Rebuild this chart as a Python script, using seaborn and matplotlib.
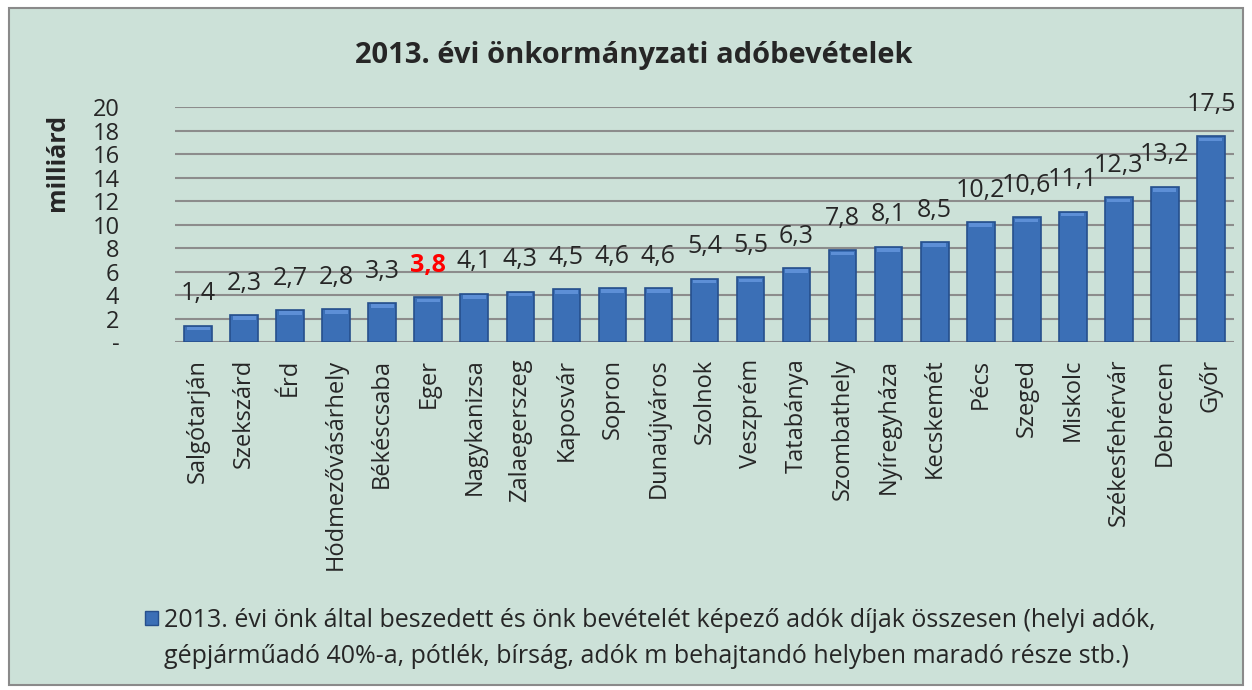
import matplotlib
matplotlib.use("Agg")
import matplotlib.pyplot as plt
import seaborn as sns
import pandas as pd
from matplotlib.patches import Patch, Rectangle

# Data
cities = ["Salgótarján", "Szekszárd", "Érd", "Hódmezővásárhely", "Békéscsaba",
          "Eger", "Nagykanizsa", "Zalaegerszeg", "Kaposvár", "Sopron",
          "Dunaújváros", "Szolnok", "Veszprém", "Tatabánya", "Szombathely",
          "Nyíregyháza", "Kecskemét", "Pécs", "Szeged", "Miskolc",
          "Székesfehérvár", "Debrecen", "Győr"]
values = [1.4, 2.3, 2.7, 2.8, 3.3, 3.8, 4.1, 4.3, 4.5, 4.6, 4.6, 5.4, 5.5,
          6.3, 7.8, 8.1, 8.5, 10.2, 10.6, 11.1, 12.3, 13.2, 17.5]
yticks = [0, 2, 4, 6, 8, 10, 12, 14, 16, 18, 20]
ytick_labels = ["-", "2", "4", "6", "8", "10", "12", "14", "16", "18", "20"]
highlight = "Eger"
title = "2013. évi önkormányzati adóbevételek"
legend_lines = ["2013. évi önk által beszedett és önk bevételét képező adók díjak összesen (helyi adók,",
                "gépjárműadó 40%-a, pótlék, bírság, adók m behajtandó helyben maradó része stb.)"]

df = pd.DataFrame({"city": cities, "value": values})

bg = "#cce1d8"
bar_color = "#3b6fb6"

sns.set_theme(style="white")
plt.rcParams["font.family"] = ["Open Sans", "DejaVu Sans"]

fig = plt.figure(figsize=(12.52, 6.90), dpi=100)
fig.patch.set_facecolor("white")
fig.add_artist(Rectangle((0.007, 0.007), 0.986, 0.982, transform=fig.transFigure,
                         facecolor=bg, edgecolor="#8a8a8a", linewidth=1.5, zorder=-10))

ax = fig.add_axes([0.1398, 0.5043, 0.8458, 0.3406])
ax.set_facecolor("none")

sns.barplot(data=df, x="city", y="value", color=bar_color, width=0.6,
            edgecolor="#264f8c", linewidth=1.2, saturation=1, ax=ax, zorder=3)

# light bevel along the top of each bar
for p in ax.patches:
    ax.add_patch(Rectangle((p.get_x() + 0.05, p.get_height() - 0.4),
                           p.get_width() - 0.1, 0.3, facecolor="#5d8fd6",
                           edgecolor="none", zorder=4))

ax.set_ylim(0, 20)
ax.set_yticks(yticks)
ax.set_yticklabels(ytick_labels, fontsize=17)
ax.yaxis.grid(True, color="#8c8c8c", linewidth=1.5, zorder=0)
ax.set_axisbelow(True)
for s in ax.spines.values():
    s.set_visible(False)
ax.tick_params(axis="y", length=0, pad=40)
ax.tick_params(axis="x", length=0, pad=12)
ax.set_xlim(-0.5, len(cities) - 0.5)
plt.setp(ax.get_xticklabels(), rotation=90, fontsize=17)
ax.set_xlabel("")
ax.set_ylabel("")

labels = [f"{v:.1f}".replace(".", ",") for v in values]
texts = ax.bar_label(ax.containers[0], labels=labels, padding=14, fontsize=18)
for t, c in zip(texts, cities):
    if c == highlight:
        t.set_color("#ff0000")
        t.set_fontweight("bold")

fig.text(0.506, 0.92, title, ha="center", va="center", fontsize=21, fontweight="bold")
fig.text(0.046, 0.765, "milliárd", rotation=90, ha="center", va="center",
         fontsize=18, fontweight="bold")

handles = [Patch(facecolor=bar_color, edgecolor="#264f8c"),
           Patch(facecolor="none", edgecolor="none")]
fig.legend(handles=handles, labels=legend_lines, loc="upper left",
           bbox_to_anchor=(0.106, 0.137), frameon=False, fontsize=18,
           handlelength=0.5, handleheight=0.5, handletextpad=0.25,
           labelspacing=0.45, borderpad=0)

fig.savefig("out.png", dpi=100, facecolor=fig.get_facecolor())
